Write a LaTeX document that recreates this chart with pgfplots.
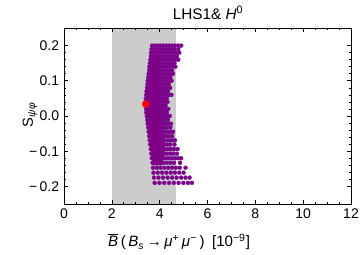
\documentclass[border=0pt]{standalone}
\usepackage{fontspec}
\setmainfont{Liberation Sans}
\usepackage{pgfplots}
\pgfplotsset{compat=1.18}
\definecolor{bandgray}{gray}{0.8}
\definecolor{ptfill}{rgb}{0.50,0.0,0.52}
\definecolor{ptdraw}{rgb}{0.46,0.08,0.62}
\begin{document}
\fontsize{10.5}{12}\selectfont
\begin{tikzpicture}
\useasboundingbox (-48pt,-37.5pt) rectangle (222pt,153pt);
\begin{axis}[
  scale only axis, width=215.25pt, height=132pt,
  xmin=0, xmax=12, ymin=-0.25, ymax=0.25,
  xtick={0,2,4,6,8,10,12},
  xticklabels={0,2,4,6,8,10,12},
  ytick={-0.2,-0.1,0,0.1,0.2},
  yticklabels={−\,0.2,−\,0.1,0.0,0.1,0.2},
  minor x tick num=3, minor y tick num=4,
  tick align=inside,
  major tick length=3.2pt, minor tick length=1.6pt,
  every tick/.style={black, line width=0.5pt},
  axis line style={line width=0.6pt},
  axis on top,
  tick label style={font=\fontsize{10.5}{12}\selectfont},
  clip mode=individual,
]
\addplot[fill=bandgray, draw=none] coordinates {(2,-0.3) (4.7,-0.3) (4.7,0.3) (2,0.3)} -- cycle;
% dense core of the scan
\addplot[fill=ptfill, draw=none] coordinates {
(3.66,0.17) (4.00,0.17) (4.10,0.12) (4.12,0.06) (4.08,0.03) (4.12,0.0)
(4.18,-0.05) (4.22,-0.10) (4.10,-0.14) (3.72,-0.14) (3.63,-0.10) (3.55,-0.05)
(3.44,0.02) (3.41,0.035) (3.46,0.07) (3.56,0.12)} -- cycle;
\addplot[only marks, mark=*, mark size=1.5pt, mark options={fill=ptfill, draw=ptdraw, line width=0.25pt}] table {
x y
3.68 0.200
3.80 0.200
3.92 0.200
4.04 0.200
4.16 0.200
4.28 0.200
4.40 0.200
4.52 0.200
4.64 0.200
4.76 0.200
4.90 0.200
3.66 0.190
3.78 0.190
3.90 0.190
4.02 0.190
4.14 0.190
4.26 0.190
4.38 0.190
4.50 0.190
4.62 0.190
4.78 0.190
3.64 0.180
3.76 0.180
3.88 0.180
4.00 0.180
4.12 0.180
4.24 0.180
4.36 0.180
4.48 0.180
4.60 0.180
4.70 0.180
4.82 0.180
3.63 0.170
3.75 0.170
3.87 0.170
3.99 0.170
4.11 0.170
4.23 0.170
4.35 0.170
4.47 0.170
4.59 0.170
4.72 0.170
3.61 0.160
3.73 0.160
3.85 0.160
3.97 0.160
4.09 0.160
4.21 0.160
4.33 0.160
4.45 0.160
4.57 0.160
4.67 0.160
4.78 0.160
3.59 0.150
3.71 0.150
3.83 0.150
3.95 0.150
4.07 0.150
4.19 0.150
4.31 0.150
4.43 0.150
4.52 0.150
4.62 0.150
3.57 0.140
3.69 0.140
3.81 0.140
3.93 0.140
4.05 0.140
4.17 0.140
4.29 0.140
4.41 0.140
4.53 0.140
4.66 0.140
3.56 0.130
3.68 0.130
3.80 0.130
3.92 0.130
4.04 0.130
4.16 0.130
4.28 0.130
4.40 0.130
4.52 0.130
3.54 0.120
3.66 0.120
3.78 0.120
3.90 0.120
4.02 0.120
4.14 0.120
4.26 0.120
4.38 0.120
4.47 0.120
4.56 0.120
3.52 0.110
3.64 0.110
3.76 0.110
3.88 0.110
4.00 0.110
4.12 0.110
4.24 0.110
4.34 0.110
4.45 0.110
3.50 0.100
3.62 0.100
3.74 0.100
3.86 0.100
3.98 0.100
4.10 0.100
4.22 0.100
4.32 0.100
4.41 0.100
4.50 0.100
3.49 0.090
3.61 0.090
3.73 0.090
3.85 0.090
3.97 0.090
4.09 0.090
4.20 0.090
4.29 0.090
4.38 0.090
3.47 0.080
3.59 0.080
3.71 0.080
3.83 0.080
3.95 0.080
4.07 0.080
4.18 0.080
4.27 0.080
4.36 0.080
4.44 0.080
3.45 0.070
3.57 0.070
3.69 0.070
3.81 0.070
3.93 0.070
4.05 0.070
4.15 0.070
4.25 0.070
4.35 0.070
3.44 0.060
3.56 0.060
3.68 0.060
3.80 0.060
3.92 0.060
4.04 0.060
4.14 0.060
4.24 0.060
4.32 0.060
4.41 0.060
4.49 0.060
3.42 0.050
3.54 0.050
3.66 0.050
3.78 0.050
3.90 0.050
4.02 0.050
4.12 0.050
4.21 0.050
4.30 0.050
3.41 0.040
3.53 0.040
3.65 0.040
3.77 0.040
3.89 0.040
4.01 0.040
4.11 0.040
4.19 0.040
4.26 0.040
4.33 0.040
3.41 0.030
3.53 0.030
3.65 0.030
3.77 0.030
3.89 0.030
4.01 0.030
4.10 0.030
4.18 0.030
4.25 0.030
3.43 0.020
3.55 0.020
3.67 0.020
3.79 0.020
3.91 0.020
4.03 0.020
4.12 0.020
4.21 0.020
4.29 0.020
4.36 0.020
3.44 0.010
3.56 0.010
3.68 0.010
3.80 0.010
3.92 0.010
4.04 0.010
4.13 0.010
4.22 0.010
4.30 0.010
3.46 0.000
3.58 0.000
3.70 0.000
3.82 0.000
3.94 0.000
4.06 0.000
4.15 0.000
4.24 0.000
4.33 0.000
4.42 0.000
3.48 -0.011
3.60 -0.011
3.72 -0.011
3.84 -0.011
3.96 -0.011
4.08 -0.011
4.18 -0.011
4.27 -0.011
4.35 -0.011
3.50 -0.022
3.62 -0.022
3.74 -0.022
3.86 -0.022
3.98 -0.022
4.10 -0.022
4.20 -0.022
4.30 -0.022
4.39 -0.022
4.48 -0.022
3.52 -0.033
3.64 -0.033
3.76 -0.033
3.88 -0.033
4.00 -0.033
4.12 -0.033
4.22 -0.033
4.32 -0.033
4.45 -0.033
3.54 -0.045
3.66 -0.045
3.78 -0.045
3.90 -0.045
4.02 -0.045
4.14 -0.045
4.25 -0.045
4.35 -0.045
4.45 -0.045
4.56 -0.045
3.56 -0.057
3.68 -0.057
3.80 -0.057
3.92 -0.057
4.04 -0.057
4.16 -0.057
4.27 -0.057
4.38 -0.057
4.52 -0.057
3.58 -0.069
3.70 -0.069
3.82 -0.069
3.94 -0.069
4.06 -0.069
4.18 -0.069
4.30 -0.069
4.41 -0.069
4.52 -0.069
4.64 -0.069
3.60 -0.081
3.72 -0.081
3.84 -0.081
3.96 -0.081
4.08 -0.081
4.20 -0.081
4.32 -0.081
4.44 -0.081
4.62 -0.081
3.63 -0.094
3.75 -0.094
3.87 -0.094
3.99 -0.094
4.11 -0.094
4.23 -0.094
4.35 -0.094
4.47 -0.094
4.60 -0.094
4.75 -0.094
3.65 -0.107
3.78 -0.107
3.91 -0.107
4.04 -0.107
4.17 -0.107
4.30 -0.107
4.43 -0.107
4.56 -0.107
4.72 -0.107
3.67 -0.120
3.81 -0.120
3.95 -0.120
4.09 -0.120
4.23 -0.120
4.37 -0.120
4.51 -0.120
4.65 -0.120
4.78 -0.120
4.90 -0.120
3.70 -0.133
3.85 -0.133
4.00 -0.133
4.15 -0.133
4.30 -0.133
4.45 -0.133
4.60 -0.133
4.85 -0.133
3.72 -0.147
3.88 -0.147
4.04 -0.147
4.20 -0.147
4.36 -0.147
4.52 -0.147
4.68 -0.147
4.84 -0.147
5.08 -0.147
3.74 -0.161
3.92 -0.161
4.10 -0.161
4.28 -0.161
4.46 -0.161
4.64 -0.161
4.82 -0.161
5.00 -0.161
3.76 -0.175
3.95 -0.175
4.14 -0.175
4.33 -0.175
4.52 -0.175
4.71 -0.175
4.90 -0.175
5.08 -0.175
5.25 -0.175
3.79 -0.190
3.99 -0.190
4.19 -0.190
4.39 -0.190
4.59 -0.190
4.79 -0.190
4.99 -0.190
5.18 -0.190
5.35 -0.190
};
\addplot[fill=ptfill, draw=none, fill opacity=0.85] coordinates {
(3.64,0.175) (3.90,0.175) (4.00,0.12) (4.02,0.06) (4.00,0.0)
(4.06,-0.05) (4.08,-0.10) (3.98,-0.135) (3.74,-0.135) (3.64,-0.10) (3.56,-0.05)
(3.45,0.02) (3.43,0.035) (3.48,0.07) (3.57,0.12)} -- cycle;
\addplot[only marks, mark=*, mark size=2.6pt, color=red] coordinates {(3.42,0.034)};
\node at (axis description cs:0.502,1.085) {\fontsize{11.5}{13}\selectfont LHS1\& \textit{H}\textsuperscript{0}};
\node at (axis description cs:0.401,-0.216) {\fontsize{11.3}{13}\selectfont$\overline{\mbox{\itshape B}}$\,(\,\textit{B}\textsubscript{\textit{s}}\,→\,\textit{μ}\textsuperscript{+}\,\textit{μ}\textsuperscript{−}\,)\enspace[10\textsuperscript{−9}]};
\node[rotate=90] at (axis description cs:-0.1185,0.506) {\fontsize{11}{13}\selectfont S\textsubscript{\textit{ψφ}}};
\end{axis}
\end{tikzpicture}
\end{document}
